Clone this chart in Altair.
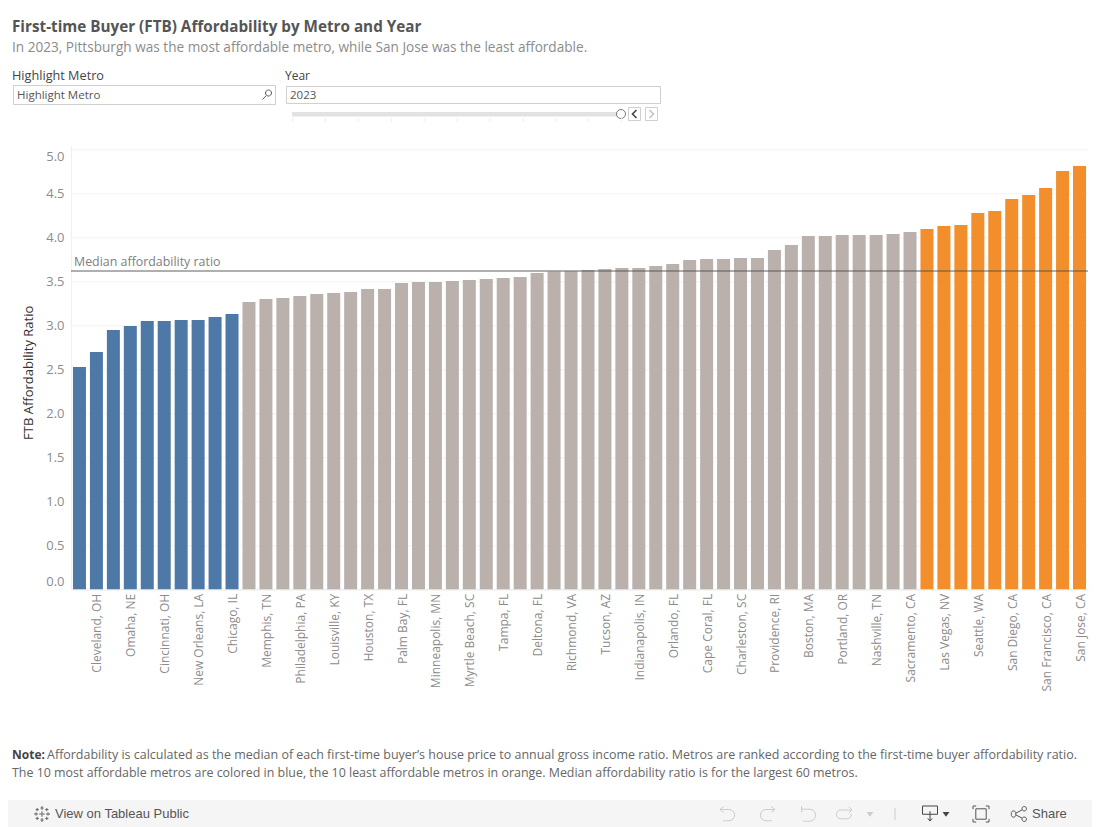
import altair as alt
import pandas as pd

# ---- data ----
LABELS = ["Cleveland, OH", "Omaha, NE", "Cincinnati, OH", "New Orleans, LA", "Chicago, IL",
          "Memphis, TN", "Philadelphia, PA", "Louisville, KY", "Houston, TX", "Palm Bay, FL",
          "Minneapolis, MN", "Myrtle Beach, SC", "Tampa, FL", "Deltona, FL", "Richmond, VA",
          "Tucson, AZ", "Indianapolis, IN", "Orlando, FL", "Cape Coral, FL", "Charleston, SC",
          "Providence, RI", "Boston, MA", "Portland, OR", "Nashville, TN", "Sacramento, CA",
          "Las Vegas, NV", "Seattle, WA", "San Diego, CA", "San Francisco, CA", "San Jose, CA"]
RATIO = [2.526, 2.697, 2.947, 2.992, 3.049, 3.049, 3.06, 3.06, 3.094, 3.128,
         3.265, 3.299, 3.31, 3.333, 3.356, 3.367, 3.378, 3.413, 3.413, 3.48,
         3.492, 3.492, 3.503, 3.515, 3.526, 3.538, 3.549, 3.594, 3.612, 3.615,
         3.628, 3.64, 3.651, 3.651, 3.674, 3.697, 3.742, 3.753, 3.753, 3.765,
         3.765, 3.856, 3.912, 4.015, 4.015, 4.026, 4.026, 4.026, 4.037, 4.06,
         4.094, 4.128, 4.14, 4.276, 4.299, 4.435, 4.48, 4.56, 4.753, 4.81]
MEDIAN = 3.617
YTICKS = [0, 0.5, 1, 1.5, 2, 2.5, 3, 3.5, 4, 4.5, 5]
GROUPS = ["Most affordable", "Middle", "Least affordable"]
COLORS = ["#4e79a7", "#bab0ac", "#f28e2b"]
YEARS = list(range(2013, 2024))

# Only every second metro name is printed in the picture; the others stay as rank keys.
names = []
for i in range(len(RATIO)):
    names.append(LABELS[i // 2] if i % 2 else ("Pittsburgh, PA" if i == 0 else f"Rank {i + 1}"))
groups = [GROUPS[0] if i < 10 else GROUPS[2] if i >= 50 else GROUPS[1] for i in range(len(RATIO))]
df = pd.DataFrame({"metro": names, "ratio": RATIO, "group": groups})

FONT = "Open Sans"
UI = "Liberation Sans"
OX, OY = 71, 145.3
one = alt.Data(values=[{"a": 1}])


def X(v):
    return alt.value(v - OX)


def Y(v):
    return alt.value(v - OY)


def txt(s, x, y, size, color, weight="normal", font=FONT, align="left"):
    return alt.Chart(one).mark_text(font=font, fontSize=size, color=color, fontWeight=weight,
                                    align=align, baseline="middle").encode(
        x=X(x), y=Y(y), text=alt.value(s))


def box(x0, y0, x1, y1, fill="none", stroke=None, sw=1):
    kw = {"stroke": stroke, "strokeWidth": sw} if stroke else {"strokeWidth": 0}
    return alt.Chart(one).mark_rect(fill=fill, **kw).encode(x=X(x0), x2=X(x1), y=Y(y0), y2=Y(y1))


def seg(x0, y0, x1, y1, color, sw=1):
    return alt.Chart(one).mark_rule(color=color, strokeWidth=sw).encode(
        x=X(x0), x2=X(x1), y=Y(y0), y2=Y(y1))


def icon(path, x, y, r, color, sw=1, filled=False):
    return alt.Chart(one).mark_point(shape=path, size=(2 * r) ** 2, filled=filled, opacity=1,
                                     color=color, strokeWidth=sw).encode(x=X(x), y=Y(y))


UNDO = "M-1,-0.6 L0.2,-0.6 A0.75,0.75 0 0 1 0.2,0.9 L-0.6,0.9 M-1,-0.6 L-0.5,-1 M-1,-0.6 L-0.5,-0.2"
REDO = "M1,-0.6 L-0.2,-0.6 A0.75,0.75 0 0 0 -0.2,0.9 L0.6,0.9 M1,-0.6 L0.5,-1 M1,-0.6 L0.5,-0.2"
UNDO2 = "M-0.8,-1 L-0.8,-0.2 M-0.8,-0.6 L0.2,-0.6 A0.75,0.75 0 0 1 0.2,0.9 L-0.6,0.9"
REDO2 = "M0.9,-0.5 L-0.4,-0.5 A0.55,0.55 0 0 0 -0.4,0.6 L0.4,0.6 A0.55,0.55 0 0 0 0.9,0 M0.6,-0.9 L1,-0.5 L0.6,-0.1"
TRI = "M-1,-0.6 L1,-0.6 L0,0.8 Z"
DOWN = "M-1,-1 L1,-1 L1,0.1 L-1,0.1 Z M0,-0.3 L0,1 M-0.3,0.65 L0,1 L0.3,0.65"
FULL = ("M-1,-0.6 L-1,-1 L-0.6,-1 M0.6,-1 L1,-1 L1,-0.6 M1,0.6 L1,1 L0.6,1 M-0.6,1 L-1,1 L-1,0.6 "
        "M-0.65,-0.65 L0.65,-0.65 L0.65,0.65 L-0.65,0.65 Z")
SHARE = ("M-0.45,0 A0.3,0.3 0 1 1 -1,0 A0.3,0.3 0 1 1 -0.45,0 M1,-0.7 A0.3,0.3 0 1 1 0.4,-0.7 "
         "A0.3,0.3 0 1 1 1,-0.7 M1,0.7 A0.3,0.3 0 1 1 0.4,0.7 A0.3,0.3 0 1 1 1,0.7 "
         "M-0.45,-0.1 L0.42,-0.55 M-0.45,0.1 L0.42,0.55")
LOGO = ("M0,-1 L0,-0.5 M-0.2,-0.75 L0.2,-0.75 M0,0.5 L0,1 M-0.2,0.75 L0.2,0.75 "
        "M-1,0 L-0.5,0 M-0.75,-0.2 L-0.75,0.2 M0.5,0 L1,0 M0.75,-0.2 L0.75,0.2 "
        "M0,-0.35 L0,0.35 M-0.35,0 L0.35,0 "
        "M-0.6,-0.75 L-0.6,-0.35 M-0.8,-0.55 L-0.4,-0.55 M0.6,-0.75 L0.6,-0.35 M0.4,-0.55 L0.8,-0.55 "
        "M-0.6,0.35 L-0.6,0.75 M-0.8,0.55 L-0.4,0.55 M0.6,0.35 L0.6,0.75 M0.4,0.55 L0.8,0.55")
GLASS = "M0.9,-0.3 A0.6,0.6 0 1 1 -0.3,-0.3 A0.6,0.6 0 1 1 0.9,-0.3 M-0.15,0.2 L-0.9,1"
LEFT = "M0.5,-1 L-0.5,0 L0.5,1"
RIGHT = "M-0.5,-1 L0.5,0 L-0.5,1"

bars = alt.Chart(df).mark_bar(size=13).encode(
    x=alt.X("metro:N", sort=None, title=None,
            scale=alt.Scale(paddingInner=0, paddingOuter=0),
            axis=alt.Axis(values=LABELS, labelAngle=270, labelAlign="right", labelBaseline="middle",
                          labelFontSize=12, labelColor="#8c8c8c", labelFont=FONT, labelPadding=4,
                          labelOffset=1, labelLimit=200, labelOverlap=False, tickSize=0,
                          domainColor="#ececec", domainWidth=1, grid=False)),
    y=alt.Y("ratio:Q", title="FTB Affordability Ratio",
            scale=alt.Scale(domain=[0, 444 / 88], nice=False, zero=False),
            axis=alt.Axis(values=YTICKS, format=".1f", labelFontSize=13, labelColor="#8c8c8c",
                          labelFont=FONT, labelPadding=7, tickSize=0, domainColor="#f0f0f0",
                          gridColor="#f2f2f2", gridWidth=1, labelFlush=6, labelFlushOffset=-1,
                          labelOffset=0.5,
                          titleFont=FONT, titleFontSize=13, titleFontWeight="normal",
                          titleColor="#333333", titleX=-36, titleY=227)),
    color=alt.Color("group:N", legend=None,
                    scale=alt.Scale(domain=GROUPS, range=COLORS)),
)

med = alt.Data(values=[{"m": MEDIAN}])
median_rule = alt.Chart(med).mark_rule(color="#4e4e4e", opacity=0.45, strokeWidth=2).encode(
    y=alt.Y("m:Q"))
median_text = alt.Chart(med).mark_text(font=FONT, fontSize=12.4, color="#808080", align="left",
                                       baseline="middle", dy=-9, dx=3).encode(
    y=alt.Y("m:Q"), x=alt.value(0), text=alt.value("Median affordability ratio"))

deco = [
    txt("First-time Buyer (FTB) Affordability by Metro and Year", 12, 27, 15.26, "#555555", "bold"),
    txt("In 2023, Pittsburgh was the most affordable metro, while San Jose was the least affordable.",
        12, 48, 13.62, "#8c8c8c"),
    txt("Highlight Metro", 12, 76, 12.7, "#444444"),
    txt("Year", 285, 76, 12, "#444444"),
    box(13.5, 85.5, 275.5, 104.5, "#ffffff", "#cfcfcf"),
    box(286.5, 86.5, 660.5, 103.5, "#ffffff", "#cfcfcf"),
    txt("Highlight Metro", 17, 96, 11.5, "#555555"),
    txt("2023", 290, 96, 11.5, "#555555"),
    icon(GLASS, 267, 94.5, 5, "#555555"),
    box(292, 112, 617, 116.5, "#e2e2e2"),
    icon("circle", 621, 114, 4.5, "#777777"),
    box(628.5, 107.5, 640.5, 120.5, "#ffffff", "#cfcfcf"),
    box(645.5, 107.5, 657.5, 120.5, "#ffffff", "#cfcfcf"),
    icon(LEFT, 634.5, 114, 4, "#444444", 1.6),
    icon(RIGHT, 651.5, 114, 4, "#c4c4c4", 1.6),
    txt("Note:", 12, 755, 12, "#444444", "bold"),
    txt("Affordability is calculated as the median of each first-time buyer’s house price to annual gross income ratio. Metros are ranked according to the first-time buyer affordability ratio.",
        47, 755, 12.48, "#666666"),
    txt("The 10 most affordable metros are colored in blue, the 10 least affordable metros in orange. Median affordability ratio is for the largest 60 metros.",
        12, 772.5, 12.43, "#666666"),
    box(8, 800, 1092, 827, "#f5f5f5"),
    icon(LOGO, 42, 814, 8, "#666666"),
    txt("View on Tableau Public", 55, 814, 13, "#555555", font=UI),
    icon(UNDO, 727.5, 814, 7.5, "#cccccc"),
    icon(REDO, 767.5, 814, 7.5, "#cccccc"),
    icon(UNDO2, 808, 814, 8, "#cccccc"),
    icon(REDO2, 844, 814, 8, "#cccccc"),
    icon(TRI, 870, 814, 3.5, "#cccccc", filled=True),
    seg(895, 808, 895, 820, "#cccccc"),
    icon(DOWN, 930, 813.5, 7.5, "#444444"),
    icon(TRI, 946, 814, 3.5, "#444444", filled=True),
    icon(FULL, 981, 814, 8, "#555555"),
    icon(SHARE, 1019, 814, 7.5, "#555555"),
    txt("Share", 1032, 814, 13, "#555555", font=UI),
]
for i, _ in enumerate(YEARS):
    tx = 292.6 + i * 32.9
    deco.append(seg(tx, 118, tx, 122, "#eeeeee"))

chart = alt.layer(bars, median_rule, median_text, *deco).properties(
    width=1017, height=444,
    autosize=alt.AutoSizeParams(type="none"),
    padding={"left": 63, "top": 137.3, "right": 4, "bottom": 237.7},
).configure_view(stroke=None).configure_axis(grid=True)

chart.save("out.html", embed_options={"renderer": "svg", "actions": False})
